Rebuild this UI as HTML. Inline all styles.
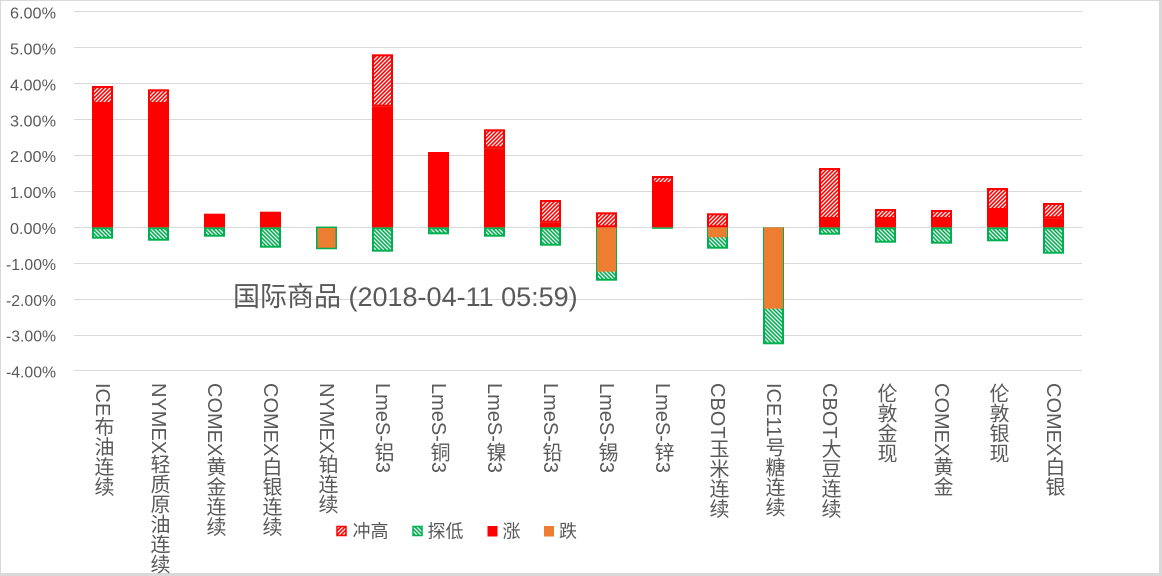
<!DOCTYPE html>
<html>
<head>
<meta charset="utf-8">
<style>
html,body{margin:0;padding:0;}
body{width:1162px;height:576px;position:relative;overflow:hidden;background:#d9d9d9;font-family:"Liberation Sans","Noto Sans CJK SC",sans-serif;}
#frame{position:absolute;left:1px;top:1px;width:1158px;height:572px;background:#fff;}
svg{position:absolute;left:0;top:0;}
.xl{position:absolute;top:383px;width:20px;writing-mode:vertical-rl;text-orientation:mixed;font-size:20px;line-height:20px;color:#595959;font-family:"Liberation Sans","Noto Sans CJK SC",sans-serif;white-space:nowrap;}
</style>
</head>
<body>
<div id="frame"></div>
<svg width="1162" height="576" viewBox="0 0 1162 576" xmlns="http://www.w3.org/2000/svg">
<defs>
<pattern id="pr" patternUnits="userSpaceOnUse" width="4" height="4">
<rect width="4" height="4" fill="#fff"/>
<path d="M-1,1 L1,-1 M0,4 L4,0 M3,5 L5,3" stroke="#ff0000" stroke-width="1.6"/>
</pattern>
<pattern id="pg" patternUnits="userSpaceOnUse" width="4" height="4">
<rect width="4" height="4" fill="#fff"/>
<path d="M-1,3 L1,5 M0,0 L4,4 M3,-1 L5,1" stroke="#00b050" stroke-width="1.6"/>
</pattern>
</defs>
<!-- gridlines -->
<g stroke="#d9d9d9" stroke-width="1">
<line x1="74" x2="1082" y1="11.5" y2="11.5"/>
<line x1="74" x2="1082" y1="47.5" y2="47.5"/>
<line x1="74" x2="1082" y1="83.5" y2="83.5"/>
<line x1="74" x2="1082" y1="119.5" y2="119.5"/>
<line x1="74" x2="1082" y1="155.5" y2="155.5"/>
<line x1="74" x2="1082" y1="191.5" y2="191.5"/>
<line x1="74" x2="1082" y1="227.5" y2="227.5"/>
<line x1="74" x2="1082" y1="263.5" y2="263.5"/>
<line x1="74" x2="1082" y1="299.5" y2="299.5"/>
<line x1="74" x2="1082" y1="335.5" y2="335.5"/>
<line x1="74" x2="1082" y1="370.5" y2="370.5"/>
</g>
<!-- y labels -->
<g fill="#595959" font-size="16" font-family="Liberation Sans, sans-serif" text-anchor="end">
<text x="56" y="18.6" textLength="46" lengthAdjust="spacingAndGlyphs">6.00%</text>
<text x="56" y="54.5" textLength="46" lengthAdjust="spacingAndGlyphs">5.00%</text>
<text x="56" y="90.4" textLength="46" lengthAdjust="spacingAndGlyphs">4.00%</text>
<text x="56" y="126.3" textLength="46" lengthAdjust="spacingAndGlyphs">3.00%</text>
<text x="56" y="162.2" textLength="46" lengthAdjust="spacingAndGlyphs">2.00%</text>
<text x="56" y="198.1" textLength="46" lengthAdjust="spacingAndGlyphs">1.00%</text>
<text x="56" y="234" textLength="46" lengthAdjust="spacingAndGlyphs">0.00%</text>
<text x="56" y="269.9" textLength="50" lengthAdjust="spacingAndGlyphs">-1.00%</text>
<text x="56" y="305.8" textLength="50" lengthAdjust="spacingAndGlyphs">-2.00%</text>
<text x="56" y="341.7" textLength="50" lengthAdjust="spacingAndGlyphs">-3.00%</text>
<text x="56" y="377.6" textLength="50" lengthAdjust="spacingAndGlyphs">-4.00%</text>
</g>

<!-- negative parts: green hatch boxes -->
<g fill="url(#pg)" stroke="#00b050" stroke-width="2">
<rect x="93" y="228.3" width="19" height="9.4"/>
<rect x="149" y="228.3" width="19" height="11.4"/>
<rect x="205" y="228.3" width="19" height="7.4"/>
<rect x="261" y="228.3" width="19" height="18.4"/>
<rect x="373" y="228.3" width="19" height="22.4"/>
<rect x="429" y="228.3" width="19" height="5"/>
<rect x="485" y="228.3" width="19" height="7.4"/>
<rect x="541" y="228.3" width="19" height="16.4"/>
<rect x="597" y="228.3" width="19" height="51.4"/>
<rect x="708" y="228.3" width="19" height="19.4"/>
<rect x="764" y="228.3" width="19" height="115"/>
<rect x="820" y="228.3" width="19" height="5.4"/>
<rect x="876" y="228.3" width="19" height="13.4"/>
<rect x="932" y="228.3" width="19" height="14.4"/>
<rect x="988" y="228.3" width="19" height="12"/>
<rect x="1044" y="228.3" width="19" height="24.4"/>
</g>
<!-- orange 跌 -->
<g fill="#ed7d31">
<rect x="316.75" y="227.3" width="19.5" height="21.2" stroke="#00b050" stroke-width="1.5"/>
<rect x="597" y="227.3" width="19" height="44.4"/>
<rect x="708" y="227.3" width="19" height="10"/>
<rect x="764" y="227.3" width="19" height="81.4"/>
</g>
<rect x="652" y="227.3" width="21" height="1.5" fill="#00b050"/>

<!-- red 涨 -->
<g fill="#ff0000">
<rect x="92" y="104" width="21" height="123.3"/>
<rect x="148" y="104" width="21" height="123.3"/>
<rect x="204" y="213.7" width="21" height="13.6"/>
<rect x="260" y="211.7" width="21" height="15.6"/>
<rect x="372" y="106.7" width="21" height="120.6"/>
<rect x="428" y="152" width="21" height="75.3"/>
<rect x="484" y="148.3" width="21" height="79"/>
<rect x="540" y="222.7" width="21" height="4.6"/>
<rect x="652" y="184" width="21" height="43.3"/>
<rect x="819" y="219" width="21" height="8.3"/>
<rect x="875" y="219" width="21" height="8.3"/>
<rect x="931" y="219" width="21" height="8.3"/>
<rect x="987" y="210" width="21" height="17.3"/>
<rect x="1043" y="218.3" width="21" height="9"/>
</g>
<!-- 冲高 hatch -->
<g fill="url(#pr)" stroke="#ff0000" stroke-width="2">
<rect x="93" y="87" width="19" height="16"/>
<rect x="149" y="90.3" width="19" height="12.7"/>
<rect x="373" y="55.3" width="19" height="50.4"/>
<rect x="485" y="130.3" width="19" height="17"/>
<rect x="541" y="201" width="19" height="20.7"/>
<rect x="597" y="213.3" width="19" height="13"/>
<rect x="653" y="177" width="19" height="6"/>
<rect x="708" y="214.3" width="19" height="12"/>
<rect x="820" y="169" width="19" height="49"/>
<rect x="876" y="210" width="19" height="8"/>
<rect x="932" y="211" width="19" height="7"/>
<rect x="988" y="189" width="19" height="20"/>
<rect x="1044" y="204" width="19" height="13.3"/>
</g>

<!-- title -->
<text x="233" y="306" font-size="27" fill="#595959" font-family="Liberation Sans, Noto Sans CJK SC, sans-serif">国际商品 (2018-04-11 05:59)</text>

<!-- legend -->
<rect x="337" y="526.5" width="9" height="9" fill="url(#pr)" stroke="#ff0000" stroke-width="1.5"/>
<text x="352.5" y="537.5" font-size="18" fill="#595959" font-family="Liberation Sans, Noto Sans CJK SC, sans-serif">冲高</text>
<rect x="413" y="526.5" width="9" height="9" fill="url(#pg)" stroke="#00b050" stroke-width="1.5"/>
<text x="427.5" y="537.5" font-size="18" fill="#595959" font-family="Liberation Sans, Noto Sans CJK SC, sans-serif">探低</text>
<rect x="487.5" y="526" width="10" height="10.5" fill="#ff0000"/>
<text x="502.5" y="537.5" font-size="18" fill="#595959" font-family="Liberation Sans, Noto Sans CJK SC, sans-serif">涨</text>
<rect x="544" y="526" width="10" height="10.5" fill="#ed7d31"/>
<text x="559" y="537.5" font-size="18" fill="#595959" font-family="Liberation Sans, Noto Sans CJK SC, sans-serif">跌</text>
</svg>

<div class="xl" style="left:92px;">ICE布油连续</div>
<div class="xl" style="left:148px;">NYMEX轻质原油连续</div>
<div class="xl" style="left:204px;">COMEX黄金连续</div>
<div class="xl" style="left:260px;">COMEX白银连续</div>
<div class="xl" style="left:316px;">NYMEX铂连续</div>
<div class="xl" style="left:372px;">LmeS-铝3</div>
<div class="xl" style="left:428px;">LmeS-铜3</div>
<div class="xl" style="left:484px;">LmeS-镍3</div>
<div class="xl" style="left:540px;">LmeS-铅3</div>
<div class="xl" style="left:596px;">LmeS-锡3</div>
<div class="xl" style="left:652px;">LmeS-锌3</div>
<div class="xl" style="left:707px;">CBOT玉米连续</div>
<div class="xl" style="left:763px;">ICE11号糖连续</div>
<div class="xl" style="left:819px;">CBOT大豆连续</div>
<div class="xl" style="left:875px;">伦敦金现</div>
<div class="xl" style="left:931px;">COMEX黄金</div>
<div class="xl" style="left:987px;">伦敦银现</div>
<div class="xl" style="left:1043px;">COMEX白银</div>
</body>
</html>
